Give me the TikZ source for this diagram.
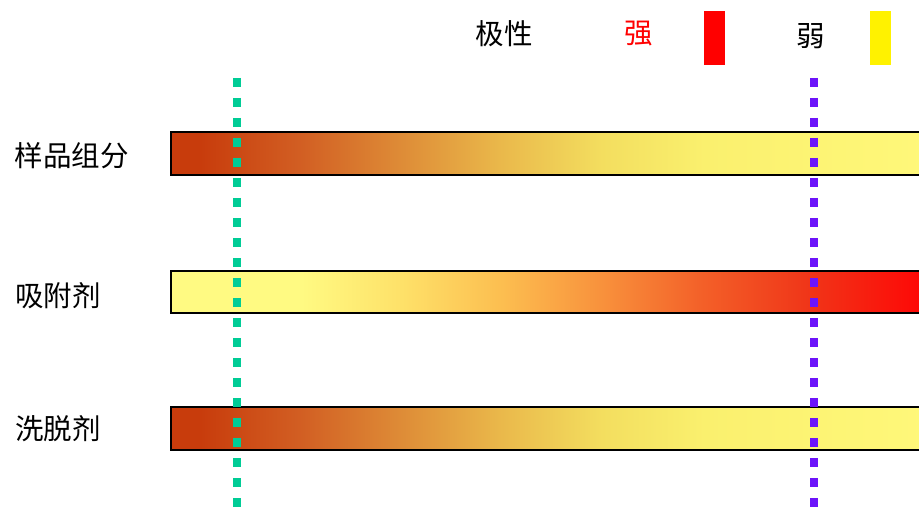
\documentclass[tikz,border=0pt]{standalone}
\usepackage{fontspec}
\setmainfont{Noto Sans CJK SC}
\definecolor{dotgreen}{RGB}{0,204,150}
\definecolor{dotpurple}{RGB}{108,20,250}
\definecolor{s0}{RGB}{200,60,12}
\definecolor{s1}{RGB}{210,95,35}
\definecolor{s2}{RGB}{222,140,55}
\definecolor{s3}{RGB}{234,185,75}
\definecolor{s4}{RGB}{243,222,95}
\definecolor{s5}{RGB}{250,240,110}
\definecolor{s6}{RGB}{255,248,122}
\definecolor{a0}{RGB}{255,250,130}
\definecolor{a1}{RGB}{254,225,105}
\definecolor{a2}{RGB}{252,190,80}
\definecolor{a3}{RGB}{248,145,60}
\definecolor{a4}{RGB}{243,95,40}
\definecolor{a5}{RGB}{240,55,25}
\definecolor{a6}{RGB}{255,5,5}
\pgfdeclarehorizontalshading{sampleshade}{100bp}{color(0bp)=(s0); color(26.9bp)=(s0); color(33.6bp)=(s1); color(40.2bp)=(s2); color(46.8bp)=(s3); color(53.4bp)=(s4); color(60.1bp)=(s5); color(75bp)=(s6); color(100bp)=(s6)}
\pgfdeclarehorizontalshading{adsorbshade}{100bp}{color(0bp)=(a0); color(33.6bp)=(a0); color(40.2bp)=(a1); color(46.8bp)=(a2); color(53.4bp)=(a3); color(60.1bp)=(a4); color(66.7bp)=(a5); color(75bp)=(a6); color(100bp)=(a6)}
\tikzset{
  lbl/.style={font=\fontsize{28.5}{30}\selectfont, inner sep=0pt},
  barbox/.style={draw=black, line width=2pt},
  greendots/.style={draw=dotgreen, line width=8pt, dash pattern=on 9pt off 11pt},
  purpledots/.style={draw=dotpurple, line width=8pt, dash pattern=on 9pt off 11pt},
}
\begin{document}
\begin{tikzpicture}[x=1pt,y=-1pt]
\useasboundingbox (0,0) rectangle (919,516);
\clip (0,0) rectangle (919,516);
% bars
\path[barbox, shading=sampleshade] (171,132) rectangle (930,175);
\path[barbox, shading=adsorbshade] (171,271) rectangle (930,313);
\path[barbox, shading=sampleshade] (171,407) rectangle (930,450);
% dotted lines
\coordinate (gtop) at (236.5,78);
\coordinate (gbot) at (236.5,530);
\coordinate (ptop) at (814,78);
\coordinate (pbot) at (814,530);
\draw[greendots] (gtop) -- (gbot);
\draw[purpledots] (ptop) -- (pbot);
% labels
\node[lbl] (sample) at (72,156) {样品组分};
\node[lbl] (adsorb) at (58,296) {吸附剂};
\node[lbl] (eluent) at (58,429) {洗脱剂};
% legend
\node[lbl] (polar) at (504,34) {极性};
\node[lbl, text=red] (strong) at (639,34) {强};
\fill[red] (704,11) rectangle (725,65);
\node[lbl] (weak) at (811,36) {弱};
\fill[yellow] (870,11) rectangle (891,65);
\end{tikzpicture}
\end{document}
